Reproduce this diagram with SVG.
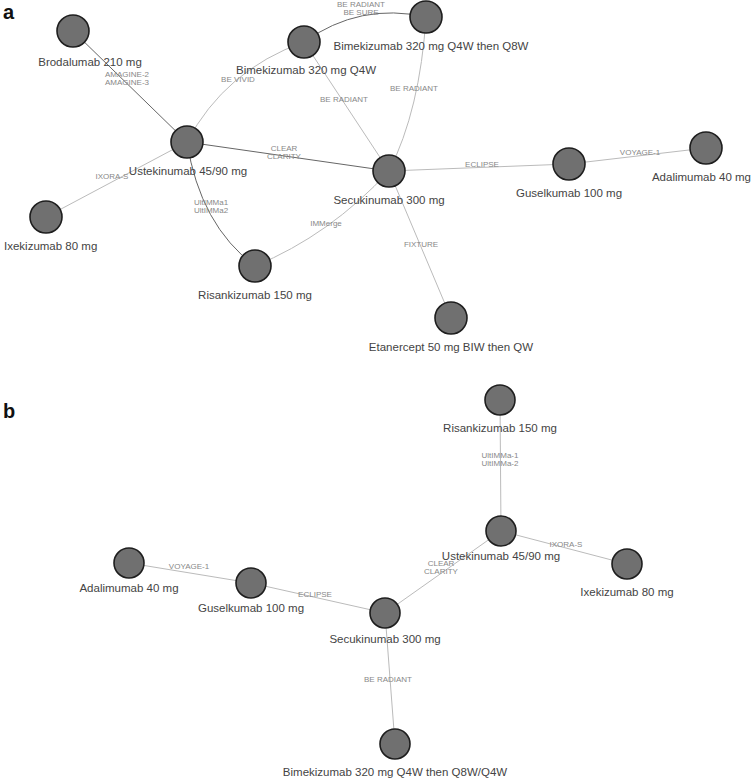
<svg xmlns="http://www.w3.org/2000/svg" width="754" height="782" viewBox="0 0 754 782">
<style>
.n circle{fill:#707070;stroke:#1e1e1e;stroke-width:1.6}
.n text{font-family:"Liberation Sans",Arial,sans-serif;font-size:11.5px;fill:#444;text-anchor:middle}
.e path{fill:none;stroke:#bbb;stroke-width:1}
.e path.d{stroke:#666}
.el text{font-family:"Liberation Sans",Arial,sans-serif;font-size:8px;fill:#888;text-anchor:middle}
.p{font-family:"Liberation Sans",Arial,sans-serif;font-size:20px;font-weight:bold;fill:#111}
</style>
<rect width="754" height="782" fill="#fff"/>
<text class="p" x="3" y="19">a</text>
<text class="p" x="3" y="418">b</text>
<g id="connectors" class="e">
<path class="d" d="M73,31 L187,142"/>
<path d="M187,142 Q225,70 304,42"/>
<path class="d" d="M304,42 Q360,2 426,17"/>
<path d="M304,42 L389,171"/>
<path d="M426,17 Q420,110 389,171"/>
<path class="d" d="M187,142 L389,171"/>
<path d="M187,142 L46,217"/>
<path class="d" d="M187,142 Q200,225 255,266"/>
<path d="M255,266 Q330,235 389,171"/>
<path d="M389,171 L569,164"/>
<path d="M569,164 L706,148"/>
<path d="M389,171 L451,318"/>
<path d="M500,400 L501,531"/>
<path d="M501,531 L627,564"/>
<path d="M501,531 L385,613"/>
<path d="M129,563 L251,583"/>
<path d="M251,583 L385,613"/>
<path d="M385,613 L395,744"/>
</g>
<g id="edge-labels" class="el">
<text x="127" y="77">AMAGINE-2</text><text x="127" y="85">AMAGINE-3</text>
<text x="238" y="82">BE VIVID</text>
<text x="361" y="7">BE RADIANT</text><text x="361" y="15">BE SURE</text>
<text x="344" y="102">BE RADIANT</text>
<text x="414" y="91">BE RADIANT</text>
<text x="284" y="151">CLEAR</text><text x="284" y="159">CLARITY</text>
<text x="112" y="179">IXORA-S</text>
<text x="211" y="205">UltIMMa1</text><text x="211" y="213">UltIMMa2</text>
<text x="326" y="226">IMMerge</text>
<text x="482" y="167">ECLIPSE</text>
<text x="640" y="155">VOYAGE-1</text>
<text x="421" y="247">FIXTURE</text>
<text x="500" y="458">UltIMMa-1</text><text x="500" y="466">UltIMMa-2</text>
<text x="566" y="547">IXORA-S</text>
<text x="441" y="566">CLEAR</text><text x="441" y="574">CLARITY</text>
<text x="189" y="569">VOYAGE-1</text>
<text x="315" y="597">ECLIPSE</text>
<text x="388" y="682">BE RADIANT</text>
</g>
<g id="a-brodalumab" class="n"><circle cx="73" cy="31" r="16"/><text x="90" y="66">Brodalumab 210 mg</text></g>
<g id="a-bimek-q4w" class="n"><circle cx="304" cy="42" r="16"/><text x="306" y="74">Bimekizumab 320 mg Q4W</text></g>
<g id="a-bimek-q8w" class="n"><circle cx="426" cy="17" r="16"/><text x="431" y="50">Bimekizumab 320 mg Q4W then Q8W</text></g>
<g id="a-ustekinumab" class="n"><circle cx="187" cy="142" r="16"/><text x="188" y="175">Ustekinumab 45/90 mg</text></g>
<g id="a-secukinumab" class="n"><circle cx="389" cy="171" r="16"/><text x="389" y="204">Secukinumab 300 mg</text></g>
<g id="a-guselkumab" class="n"><circle cx="569" cy="164" r="16"/><text x="569" y="197">Guselkumab 100 mg</text></g>
<g id="a-adalimumab" class="n"><circle cx="706" cy="148" r="16"/><text x="751" y="181" style="text-anchor:end">Adalimumab 40 mg</text></g>
<g id="a-ixekizumab" class="n"><circle cx="46" cy="217" r="16"/><text x="4" y="250" style="text-anchor:start">Ixekizumab 80 mg</text></g>
<g id="a-risankizumab" class="n"><circle cx="255" cy="266" r="16"/><text x="255" y="299">Risankizumab 150 mg</text></g>
<g id="a-etanercept" class="n"><circle cx="451" cy="318" r="16"/><text x="451" y="351">Etanercept 50 mg BIW then QW</text></g>
<g id="b-risankizumab" class="n"><circle cx="500" cy="400" r="15"/><text x="500" y="432">Risankizumab 150 mg</text></g>
<g id="b-ustekinumab" class="n"><circle cx="501" cy="531" r="15"/><text x="501" y="560">Ustekinumab 45/90 mg</text></g>
<g id="b-ixekizumab" class="n"><circle cx="627" cy="564" r="15"/><text x="627" y="596">Ixekizumab 80 mg</text></g>
<g id="b-adalimumab" class="n"><circle cx="129" cy="563" r="15"/><text x="129" y="592">Adalimumab 40 mg</text></g>
<g id="b-guselkumab" class="n"><circle cx="251" cy="583" r="15"/><text x="251" y="612">Guselkumab 100 mg</text></g>
<g id="b-secukinumab" class="n"><circle cx="385" cy="613" r="15"/><text x="385" y="643">Secukinumab 300 mg</text></g>
<g id="b-bimekizumab" class="n"><circle cx="395" cy="744" r="15"/><text x="395" y="776">Bimekizumab 320 mg Q4W then Q8W/Q4W</text></g>
</svg>
